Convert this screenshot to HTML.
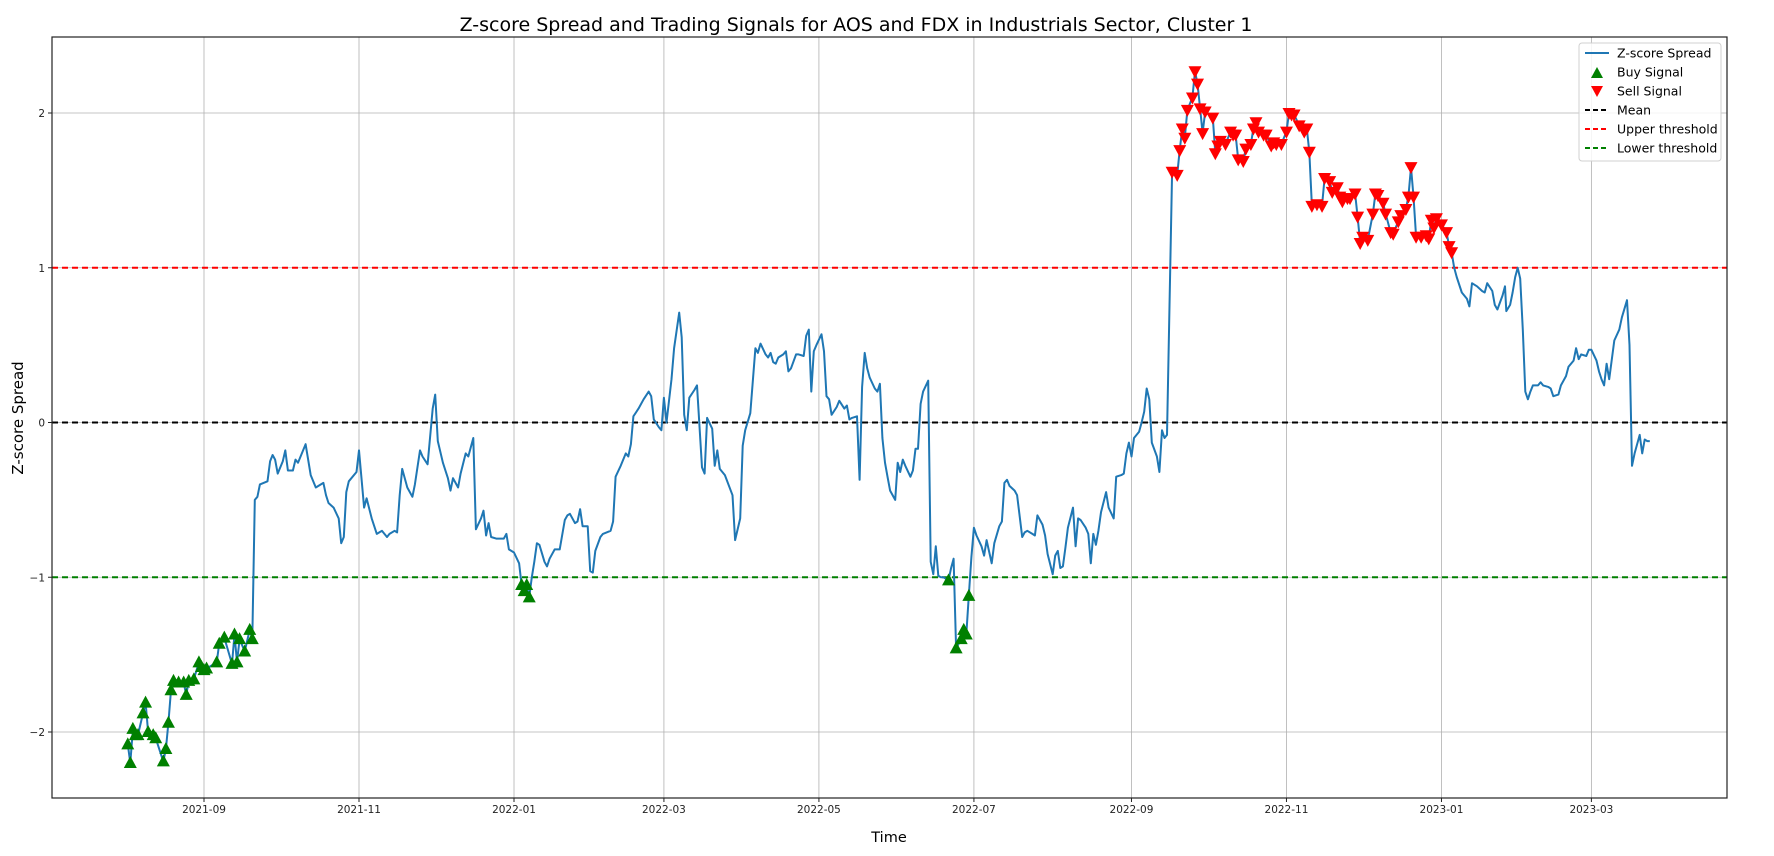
<!DOCTYPE html>
<html><head><meta charset="utf-8">
<style>
html,body{margin:0;padding:0;background:#fff;}
svg{display:block;font-family:"DejaVu Sans","Liberation Sans",sans-serif;}
</style></head>
<body>
<svg id="chart" width="1774" height="856" viewBox="0 0 1774 856" xmlns="http://www.w3.org/2000/svg">
<rect width="1774" height="856" fill="#fff"/>
<text x="856" y="31" font-size="19" text-anchor="middle" fill="#000">Z-score Spread and Trading Signals for AOS and FDX in Industrials Sector, Cluster 1</text>
<text x="889" y="842" font-size="14.5" text-anchor="middle" fill="#000">Time</text>
<text x="0" y="0" font-size="15" text-anchor="middle" fill="#000" transform="translate(23,418) rotate(-90)">Z-score Spread</text>
<g id="grid"></g>
<g id="lines"></g>
<g id="series"></g>
<g id="ticks"></g>
<rect x="52" y="37" width="1675" height="761" fill="none" stroke="#222" stroke-width="1.2"/>
<g>
<rect x="1579" y="43" width="142" height="118" rx="3" fill="#fff" fill-opacity="0.85" stroke="#d0d0d0"/>
<g font-size="12.5" fill="#000">
<line x1="1585" y1="53" x2="1609" y2="53" stroke="#1f77b4" stroke-width="2"/>
<text x="1617" y="57.5">Z-score Spread</text>
<polygon points="1597,67 1603,78 1591,78" fill="green"/>
<text x="1617" y="76.5">Buy Signal</text>
<polygon points="1591,86 1603,86 1597,97" fill="red"/>
<text x="1617" y="95.5">Sell Signal</text>
<line x1="1585" y1="110" x2="1609" y2="110" stroke="#000" stroke-width="2" stroke-dasharray="5,3"/>
<text x="1617" y="114.5">Mean</text>
<line x1="1585" y1="129" x2="1609" y2="129" stroke="red" stroke-width="2" stroke-dasharray="5,3"/>
<text x="1617" y="133.5">Upper threshold</text>
<line x1="1585" y1="148" x2="1609" y2="148" stroke="green" stroke-width="2" stroke-dasharray="5,3"/>
<text x="1617" y="152.5">Lower threshold</text>
</g></g>
</svg>
<script>
// days since 2021-09-01
const days = [-30,-29,-28,-27,-26,-24,-23,-22,-20,-19,-16,-15,-14,-13,-12,-10,-8,-7,-6,-4,-2,-1,0,1,5,6,8,11,12,13,14,16,18,19,20,21,22,25,26,27,28,29,31,32,33,35,36,37,40,42,44,46,47,48,49,51,53,54,55,56,57,60,61,63,64,66,68,69,70,72,73,75,76,77,78,80,82,83,85,86,88,90,91,92,94,96,97,98,100,101,103,104,106,107,109,110,111,112,113,115,118,119,120,122,124,125,126,127,128,129,130,131,132,134,135,136,138,140,142,143,144,146,147,148,149,151,152,153,154,156,157,160,161,162,164,166,167,168,169,171,173,175,176,177,179,180,181,182,184,185,187,188,189,190,191,193,194,196,197,198,200,201,202,203,205,208,209,211,212,213,215,217,218,219,221,222,223,224,225,226,228,229,230,231,233,234,236,237,238,239,240,241,243,244,245,246,247,249,250,252,253,254,255,257,258,259,260,261,262,264,265,266,267,268,269,270,272,273,274,275,276,278,279,280,281,282,283,285,286,287,288,289,290,291,293,294,295,296,298,299,300,301,302,303,304,306,307,308,310,311,313,314,315,316,317,319,320,322,323,324,326,327,328,330,331,332,334,335,336,337,338,339,340,342,343,344,345,347,348,349,350,351,352,353,355,356,358,359,361,362,363,364,365,366,368,369,370,371,372,373,375,376,377,378,379,381,383,384,385,386,387,389,390,391,392,393,394,397,398,399,400,402,404,405,406,407,409,410,412,413,414,415,417,418,420,421,422,424,426,427,428,429,431,433,434,435,436,438,440,441,443,444,446,447,448,450,451,453,454,455,456,458,460,461,462,464,465,467,468,470,471,473,474,475,476,477,479,481,482,483,484,485,487,489,490,491,492,493,495,497,498,499,501,503,504,505,507,508,509,511,512,512.5,514,515,516,517,518,519,520,521,522,523,525,526,527,529,530,531,533,534,536,537,539,540,541,542,544,545,546,548,549,550,551,552,553,555,557,558,560,561,562,563,565,566,567,568,569];
const zscore = [-2.08,-2.2,-1.98,-2.02,-2.02,-1.88,-1.81,-2.0,-2.02,-2.04,-2.19,-2.11,-1.94,-1.73,-1.67,-1.68,-1.68,-1.76,-1.67,-1.66,-1.55,-1.58,-1.6,-1.59,-1.55,-1.43,-1.39,-1.56,-1.37,-1.55,-1.4,-1.48,-1.34,-1.4,-0.5,-0.48,-0.4,-0.38,-0.25,-0.21,-0.24,-0.33,-0.25,-0.18,-0.31,-0.31,-0.24,-0.26,-0.14,-0.34,-0.42,-0.4,-0.39,-0.47,-0.52,-0.55,-0.62,-0.78,-0.74,-0.45,-0.38,-0.32,-0.18,-0.55,-0.49,-0.62,-0.72,-0.71,-0.7,-0.74,-0.72,-0.7,-0.71,-0.47,-0.3,-0.42,-0.48,-0.4,-0.18,-0.22,-0.27,0.09,0.18,-0.12,-0.26,-0.36,-0.44,-0.36,-0.42,-0.33,-0.2,-0.22,-0.1,-0.69,-0.62,-0.57,-0.73,-0.65,-0.74,-0.75,-0.75,-0.72,-0.82,-0.84,-0.91,-1.05,-1.09,-1.05,-1.13,-1.0,-0.9,-0.78,-0.79,-0.9,-0.93,-0.88,-0.82,-0.82,-0.63,-0.6,-0.59,-0.65,-0.64,-0.56,-0.67,-0.67,-0.96,-0.97,-0.83,-0.74,-0.72,-0.7,-0.64,-0.35,-0.28,-0.2,-0.22,-0.14,0.04,0.09,0.15,0.2,0.17,0.02,-0.03,-0.05,0.16,0.0,0.28,0.48,0.71,0.55,0.05,-0.05,0.16,0.21,0.24,-0.29,-0.33,0.03,-0.04,-0.28,-0.18,-0.3,-0.34,-0.47,-0.76,-0.62,-0.15,-0.05,0.06,0.48,0.45,0.51,0.44,0.42,0.45,0.39,0.38,0.42,0.44,0.46,0.33,0.35,0.44,0.44,0.43,0.56,0.6,0.2,0.46,0.5,0.57,0.46,0.17,0.15,0.05,0.1,0.14,0.09,0.11,0.02,0.03,0.04,-0.37,0.23,0.45,0.35,0.29,0.22,0.2,0.25,-0.1,-0.26,-0.35,-0.44,-0.5,-0.26,-0.32,-0.24,-0.28,-0.35,-0.31,-0.17,-0.17,0.12,0.2,0.27,-0.9,-0.98,-0.8,-0.99,-1.0,-1.0,-1.02,-0.94,-0.88,-1.46,-1.4,-1.34,-1.37,-1.12,-0.87,-0.68,-0.73,-0.8,-0.86,-0.76,-0.91,-0.78,-0.67,-0.64,-0.39,-0.37,-0.41,-0.44,-0.47,-0.74,-0.71,-0.7,-0.72,-0.73,-0.6,-0.66,-0.73,-0.85,-0.98,-0.86,-0.83,-0.94,-0.93,-0.81,-0.68,-0.55,-0.8,-0.62,-0.63,-0.68,-0.72,-0.91,-0.72,-0.79,-0.7,-0.58,-0.45,-0.55,-0.62,-0.35,-0.34,-0.33,-0.2,-0.13,-0.22,-0.1,-0.06,0.0,0.07,0.22,0.15,-0.13,-0.22,-0.32,-0.05,-0.1,-0.08,1.62,1.6,1.76,1.9,1.84,2.02,2.1,2.27,2.19,2.03,1.87,2.01,1.97,1.74,1.79,1.82,1.8,1.88,1.86,1.86,1.7,1.69,1.77,1.8,1.9,1.94,1.88,1.86,1.86,1.79,1.81,1.8,1.8,1.88,2.0,1.99,1.99,1.92,1.88,1.9,1.75,1.4,1.41,1.4,1.58,1.56,1.49,1.52,1.46,1.43,1.45,1.45,1.48,1.33,1.16,1.2,1.18,1.35,1.48,1.47,1.42,1.35,1.23,1.22,1.3,1.34,1.38,1.46,1.65,1.46,1.2,1.2,1.21,1.19,1.31,1.26,1.32,1.28,1.23,1.14,1.1,1.0,0.94,0.84,0.8,0.75,0.9,0.88,0.85,0.84,0.9,0.85,0.76,0.73,0.82,0.88,0.72,0.76,0.84,0.94,1.0,0.93,0.6,0.2,0.15,0.2,0.24,0.24,0.26,0.24,0.23,0.22,0.17,0.18,0.24,0.3,0.36,0.4,0.48,0.41,0.44,0.43,0.47,0.47,0.4,0.33,0.28,0.24,0.38,0.28,0.53,0.6,0.68,0.79,0.5,-0.28,-0.2,-0.08,-0.2,-0.11,-0.12,-0.12];
const xTickDays = [0,61,122,181,242,303,365,426,487,546];
const xTickLabels = ["2021-09","2021-11","2022-01","2022-03","2022-05","2022-07","2022-09","2022-11","2023-01","2023-03"];
const yTicks = [-2,-1,0,1,2];
const yTickLabels = ["\u22122","\u22121","0","1","2"];
const meanLevel = 0, upperLevel = 1, lowerLevel = -1;

const NS = "http://www.w3.org/2000/svg";
const L = 52, R = 1727, T = 37, B = 798;
const xs = d => 204 + d * 2.541;
const ys = v => 422.5 - v * 154.75;
function mk(tag, attrs, parent) {
  const e = document.createElementNS(NS, tag);
  for (const k in attrs) e.setAttribute(k, attrs[k]);
  parent.appendChild(e);
  return e;
}
const grid = document.getElementById('grid');
const ticks = document.getElementById('ticks');
xTickDays.forEach((d, i) => {
  const x = xs(d);
  const g = mk('line', {x1: x, x2: x, y1: T, y2: B, stroke: '#b0b0b0', 'stroke-width': 0.8}, grid);
  
  
  mk('line', {x1: x, x2: x, y1: B, y2: B + 4, stroke: '#222'}, ticks);
  const t = mk('text', {x: x, y: 813, 'font-size': 10.5, 'text-anchor': 'middle', fill: '#222'}, ticks);
  t.textContent = xTickLabels[i];
  
  
});
yTicks.forEach((v, i) => {
  const y = ys(v);
  const g = mk('line', {x1: L, x2: R, y1: y, y2: y, stroke: '#b0b0b0', 'stroke-width': 0.8}, grid);
  
  
  mk('line', {x1: L - 4, x2: L, y1: y, y2: y, stroke: '#222'}, ticks);
  const t = mk('text', {x: L - 7, y: y + 4, 'font-size': 10.5, 'text-anchor': 'end', fill: '#222'}, ticks);
  t.textContent = yTickLabels[i];
  
  
});
const lines = document.getElementById('lines');
[[meanLevel, '#000', 'mean-line'], [upperLevel, 'red', 'upper-threshold-line'], [lowerLevel, 'green', 'lower-threshold-line']].forEach(([v, c, n]) => {
  const l = mk('line', {x1: L, x2: R, y1: ys(v), y2: ys(v), stroke: c, 'stroke-width': 2, 'stroke-dasharray': '6,4'}, lines);
  
  
});
const series = document.getElementById('series');
const pts = days.map((d, i) => xs(d).toFixed(1) + ',' + ys(zscore[i]).toFixed(1)).join(' ');
const pl = mk('polyline', {points: pts, fill: 'none', stroke: '#1f77b4', 'stroke-width': 2, 'stroke-linejoin': 'round'}, series);


days.forEach((d, i) => {
  const v = zscore[i], x = xs(d), y = ys(v);
  if (v < lowerLevel) {
    const p = mk('polygon', {points: `${x},${y - 7} ${x + 6.5},${y + 5} ${x - 6.5},${y + 5}`, fill: 'green'}, series);
    
    
  } else if (v > upperLevel) {
    const p = mk('polygon', {points: `${x - 6.5},${y - 5} ${x + 6.5},${y - 5} ${x},${y + 7}`, fill: 'red'}, series);
    
    
  }
});
</script>
</body></html>
